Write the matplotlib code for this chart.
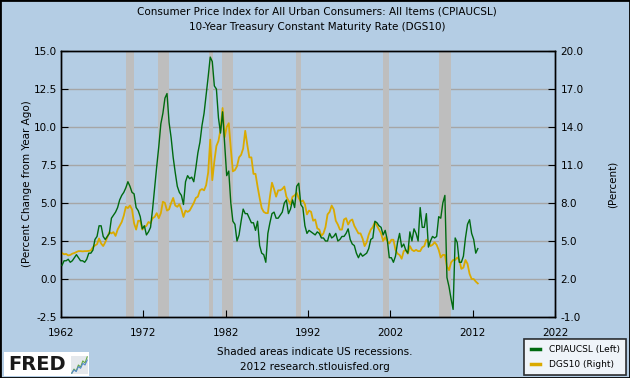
import numpy as np
import matplotlib
matplotlib.use("Agg")
import matplotlib.pyplot as plt
from matplotlib.lines import Line2D
from matplotlib.patches import Rectangle

# ---------------- data (quarterly, 1962Q1 .. 2012Q3) ----------------
start_year = 1962
cpi_yoy = [
    0.9, 1.2, 1.2, 1.3,   1.1, 1.2, 1.4, 1.6,   1.4, 1.2, 1.2, 1.1,
    1.3, 1.7, 1.7, 1.9,   2.6, 2.8, 3.5, 3.5,   2.8, 2.6, 2.8, 3.0,
    4.0, 4.2, 4.4, 4.7,   5.2, 5.5, 5.7, 6.0,   6.4, 6.1, 5.7, 5.6,
    4.7, 4.5, 4.1, 3.3,   3.5, 2.9, 3.1, 3.4,   4.6, 6.0, 7.4, 8.7,
    10.2, 10.9, 11.9, 12.2, 10.3, 9.3, 8.0, 7.0, 6.1, 5.7, 5.5, 4.9,
    6.4, 6.8, 6.6, 6.7,   6.4, 7.3, 8.3, 9.0,   10.1, 10.9, 12.1, 13.3,
    14.6, 14.3, 12.7, 12.5, 10.6, 9.6, 11.0, 8.9, 6.8, 7.1, 5.0, 3.8,
    3.6, 2.5, 2.9, 3.8,   4.6, 4.3, 4.3, 4.0,   3.7, 3.7, 3.2, 3.8,
    2.2, 1.7, 1.6, 1.1,   3.0, 3.7, 4.3, 4.4,   4.0, 4.0, 4.2, 4.4,
    5.0, 5.2, 4.3, 4.6,   5.2, 4.7, 6.1, 6.3,   4.9, 4.7, 3.5, 3.0,
    3.2, 3.1, 3.0, 2.9,   3.1, 3.0, 2.7, 2.7,   2.5, 2.5, 3.0, 2.7,
    2.8, 3.0, 2.5, 2.6,   2.8, 2.8, 3.0, 3.3,   2.6, 2.3, 2.2, 1.7,
    1.4, 1.7, 1.5, 1.6,   1.7, 2.0, 2.6, 2.7,   3.8, 3.7, 3.5, 3.4,
    2.9, 3.2, 2.6, 1.4,   1.4, 1.1, 1.5, 2.4,   3.0, 2.1, 2.3, 1.9,
    1.7, 3.1, 2.5, 3.3,   3.0, 2.5, 4.7, 3.4,   3.4, 4.3, 2.1, 2.5,
    2.8, 2.7, 2.8, 4.1,   4.0, 5.0, 5.5, 0.1,   -0.5, -1.3, -2.0, 2.7,
    2.4, 1.1, 1.1, 1.5,   2.7, 3.6, 3.9, 3.0,   2.6, 1.7, 2.0,
]
dgs10 = [
    4.05, 3.95, 3.98, 3.86,  3.90, 4.00, 4.05, 4.13,  4.20, 4.20, 4.18, 4.20,
    4.20, 4.22, 4.25, 4.50,  4.65, 4.75, 5.20, 4.80,  4.60, 4.90, 5.30, 5.70,
    5.60, 5.70, 5.40, 5.90,  6.20, 6.50, 7.00, 7.70,  7.60, 7.80, 7.50, 6.40,
    5.90, 6.60, 6.60, 5.90,  6.10, 6.20, 6.50, 6.40,  6.80, 6.90, 7.20, 6.80,
    7.20, 8.10, 8.00, 7.40,  7.50, 8.00, 8.40, 7.80,  7.70, 7.90, 7.50, 6.90,
    7.40, 7.30, 7.40, 7.70,  8.00, 8.40, 8.50, 9.00,  9.10, 9.00, 9.40, 10.40,
    13.00, 9.80, 11.30, 12.50, 12.90, 13.80, 15.50, 13.20, 14.00, 14.30, 12.30, 10.50,
    10.60, 10.90, 11.60, 11.80, 12.30, 13.70, 12.60, 11.60, 11.60, 10.30, 10.30, 9.30,
    8.40, 7.60, 7.30, 7.20,  7.20, 8.50, 9.60, 9.10,  8.50, 9.00, 9.00, 9.10,
    9.30, 8.50, 8.20, 7.90,  8.50, 8.60, 8.80, 8.40,  8.10, 8.20, 7.90, 7.10,
    7.40, 7.30, 6.60, 6.70,  6.00, 5.90, 5.40, 5.60,  6.10, 7.10, 7.30, 7.80,
    7.50, 6.60, 6.30, 5.90,  5.90, 6.70, 6.80, 6.30,  6.60, 6.70, 6.20, 5.90,
    5.60, 5.60, 5.20, 4.60,  4.90, 5.50, 5.90, 6.10,  6.50, 6.20, 5.90, 5.60,
    5.00, 5.30, 5.00, 4.80,  5.10, 5.10, 4.30, 4.00,  3.90, 3.60, 4.20, 4.30,
    4.00, 4.60, 4.30, 4.20,  4.30, 4.20, 4.20, 4.50,  4.60, 5.10, 4.90, 4.60,
    4.70, 4.90, 4.70, 4.30,  3.70, 3.90, 3.90, 3.00,  2.70, 3.30, 3.50, 3.50,
    3.70, 3.50, 2.80, 2.90,  3.50, 3.20, 2.40, 2.00,  2.00, 1.80, 1.65,
]
recession_start = [1969.92, 1973.83, 1980.00, 1981.50, 1990.50, 2001.17, 2007.92]
recession_end = [1970.83, 1975.17, 1980.50, 1982.83, 1991.17, 2001.83, 2009.42]
x_ticks = [1962, 1972, 1982, 1992, 2002, 2012, 2022]
left_ticks = [-2.5, 0.0, 2.5, 5.0, 7.5, 10.0, 12.5, 15.0]
right_ticks = [-1.0, 2.0, 5.0, 8.0, 11.0, 14.0, 17.0, 20.0]
logo_icon = [1.0, 1.6, 1.3, 2.2, 1.9, 2.8, 2.5, 3.4]

# ---------------- style ----------------
BG = "#B4CDE4"
GREEN = "#006A10"
GOLD = "#DAAA00"
SHADE = "#BEBEBE"
GRID = "#A6A6A6"
FS = 7.5

plt.rcParams["font.family"] = ["DejaVu Sans"]

W, H = 630, 378
fig = plt.figure(figsize=(W / 100, H / 100), dpi=100, facecolor=BG)

L, R, T, B = 61, 555, 51, 317
ax = fig.add_axes([L / W, 1 - B / H, (R - L) / W, (B - T) / H])
ax2 = ax.twinx()

x_cpi = start_year + np.arange(len(cpi_yoy)) / 4 + 0.125
x_dgs = start_year + np.arange(len(dgs10)) / 4 + 0.125

# back axes (ax2): white background, shading, grid, gold line
ax2.set_zorder(1)
ax.set_zorder(2)
ax.patch.set_visible(False)
ax2.patch.set_facecolor("white")

ax2.set_ylim(-1.0, 20.0)
for s, e in zip(recession_start, recession_end):
    ax2.axvspan(s, e, color=SHADE, lw=0, zorder=1)
for v in right_ticks[1:-1]:
    ax2.axhline(v, color=GRID, lw=1.0, zorder=0.5)
ax2.plot(x_dgs, dgs10, color=GOLD, lw=1.3, zorder=3)

# front axes (ax): green line
ax.set_xlim(1962, 2022)
ax.set_ylim(-2.5, 15.0)
ax.plot(x_cpi, cpi_yoy, color=GREEN, lw=1.0, zorder=4)

ax.set_xticks(x_ticks)
ax.set_xticklabels([str(t) for t in x_ticks], fontsize=FS)
ax.set_yticks(left_ticks)
ax.set_yticklabels([f"{t:.1f}" for t in left_ticks], fontsize=FS)
ax2.set_yticks(right_ticks)
ax2.set_yticklabels([f"{t:.1f}" for t in right_ticks], fontsize=FS)

ax.tick_params(axis="x", direction="in", length=5, pad=8, colors="black")
ax.tick_params(axis="y", direction="in", length=5, pad=3)
ax2.tick_params(axis="y", direction="in", length=5, pad=4)

for a in (ax, ax2):
    for sp in a.spines.values():
        sp.set_color("black")
        sp.set_linewidth(1.0)

ax.set_ylabel("(Percent Change from Year Ago)", fontsize=FS, labelpad=1)
ax2.set_ylabel("(Percent)", fontsize=FS, labelpad=17)

# titles
fig.text(0.503, 1 - 12 / H, "Consumer Price Index for All Urban Consumers: All Items (CPIAUCSL)",
         ha="center", va="center", fontsize=FS)
fig.text(0.503, 1 - 27 / H, "10-Year Treasury Constant Maturity Rate (DGS10)",
         ha="center", va="center", fontsize=FS)

# footer
fig.text(0.5, 1 - 352 / H, "Shaded areas indicate US recessions.", ha="center", va="center", fontsize=FS)
fig.text(0.5, 1 - 367 / H, "2012 research.stlouisfed.org", ha="center", va="center", fontsize=FS)

# legend
handles = [Line2D([], [], color=GREEN, lw=2.5), Line2D([], [], color=GOLD, lw=2.5)]
leg = fig.legend(handles, ["CPIAUCSL (Left)", "DGS10 (Right)"], loc="lower right",
                 bbox_to_anchor=(626 / W, 3 / H), fontsize=6.5, frameon=True,
                 fancybox=False, edgecolor="black", handlelength=1.0,
                 handletextpad=1.0, borderpad=0.7, labelspacing=0.6, borderaxespad=0)
leg.get_frame().set_linewidth(1.2)

# FRED logo
fig.patches.append(Rectangle((4 / W, 2 / H), 85 / W, 24 / H, transform=fig.transFigure,
                             facecolor="white", edgecolor="none", zorder=5))
fig.text(8 / W, 1 - 364 / H, "FRED", fontsize=14, fontweight="bold", color="#1a1a1a",
         ha="left", va="center", zorder=6)
iax = fig.add_axes([71 / W, 4 / H, 17 / W, 18 / H])
iax.set_facecolor("#E4E8EC")
iax.plot(range(len(logo_icon)), logo_icon, color="#66AA44", lw=0.8)
iax.plot(range(len(logo_icon)), [v * 0.8 + 0.2 for v in logo_icon], color="#5588CC", lw=0.8)
iax.set_xticks([]); iax.set_yticks([])
for sp in iax.spines.values():
    sp.set_visible(False)
iax.set_zorder(7)

# figure border
fig.patches.append(Rectangle((0, 0), 1, 1, transform=fig.transFigure, fill=False,
                             edgecolor="black", lw=2, zorder=10))

fig.savefig("out.png", dpi=100, facecolor=BG)
